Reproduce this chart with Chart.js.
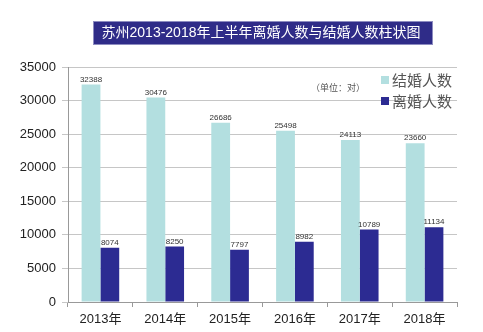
<!DOCTYPE html>
<html>
<head>
<meta charset="utf-8">
<script src="https://cdn.jsdelivr.net/npm/chart.js@4/dist/chart.umd.min.js"></script>
<style>
  html, body { margin: 0; padding: 0; background: #fff; }
  #wrap { width: 483px; height: 332px; position: relative; }
</style>
</head>
<body>
<div id="wrap"><canvas id="chart" width="483" height="332"></canvas></div>
<script>
const years = ['2013年', '2014年', '2015年', '2016年', '2017年', '2018年'];
const marriages = [32388, 30476, 26686, 25498, 24113, 23660];
const divorces = [8074, 8250, 7797, 8982, 10789, 11134];

const titleText = '苏州2013-2018年上半年离婚人数与结婚人数柱状图';
const unitText = '（单位：对）';
const seriesNames = ['结婚人数', '离婚人数'];
const marriageColor = '#b3dfe0';
const divorceColor = '#2c2b92';
const mixed = '"Liberation Sans", "Noto Sans CJK SC", sans-serif';
const cjk = '"Noto Sans CJK SC", "Noto Sans", sans-serif';
const latin = '"Liberation Sans", Arial, sans-serif';

const decorPlugin = {
  id: 'decor',
  afterDraw(chart) {
    const ctx = chart.ctx;
    ctx.save();

    // title box
    ctx.fillStyle = '#2f2c88';
    ctx.fillRect(93, 21, 340, 24);
    ctx.strokeStyle = '#8d8cc0';
    ctx.lineWidth = 1;
    ctx.strokeRect(93.5, 21.5, 339, 23);
    ctx.fillStyle = '#ffffff';
    ctx.font = '14px ' + mixed;
    ctx.textAlign = 'center';
    ctx.textBaseline = 'middle';
    ctx.fillText(titleText, 261, 33.5);

    // unit note
    ctx.fillStyle = '#555';
    ctx.font = '9px ' + cjk;
    ctx.fillText(unitText, 338, 88);

    // legend
    const colors = [marriageColor, divorceColor];
    ctx.textAlign = 'left';
    ctx.font = '15px ' + cjk;
    seriesNames.forEach((name, i) => {
      const y = 80 + i * 21;
      ctx.fillStyle = colors[i];
      ctx.fillRect(381, y - 4, 8, 8);
      ctx.fillStyle = '#555';
      ctx.fillText(name, 392, y);
    });

    // value labels
    ctx.textAlign = 'center';
    ctx.textBaseline = 'bottom';
    ctx.font = '8px ' + latin;
    ctx.fillStyle = '#333';
    chart.data.datasets.forEach((ds, di) => {
      chart.getDatasetMeta(di).data.forEach((bar, i) => {
        ctx.fillText(String(ds.data[i]), bar.x, bar.y - 1);
      });
    });

    ctx.restore();
  }
};

new Chart(document.getElementById('chart'), {
  type: 'bar',
  data: {
    labels: years,
    datasets: [
      {
        label: seriesNames[0],
        data: marriages,
        backgroundColor: marriageColor,
        barPercentage: 1,
        categoryPercentage: 0.58
      },
      {
        label: seriesNames[1],
        data: divorces,
        backgroundColor: divorceColor,
        barPercentage: 1,
        categoryPercentage: 0.58
      }
    ]
  },
  options: {
    responsive: false,
    animation: false,
    layout: { padding: { top: 67, right: 26, left: 0, bottom: 0 } },
    plugins: {
      legend: { display: false },
      tooltip: { enabled: false }
    },
    scales: {
      x: {
        grid: {
          drawOnChartArea: false,
          offset: true,
          tickLength: 5,
          color: '#999'
        },
        border: { color: '#999' },
        ticks: {
          color: '#222',
          font: { family: mixed, size: 13 },
          padding: 5,
          maxRotation: 0
        },
        afterFit(scale) { scale.height = 30; }
      },
      y: {
        min: 0,
        max: 35000,
        grid: { color: '#c6c6c6', tickLength: 6 },
        border: { color: '#999' },
        ticks: {
          stepSize: 5000,
          color: '#222',
          font: { family: latin, size: 13 },
          padding: 6,
          callback: v => String(v)
        },
        afterFit(scale) { scale.width = 68; }
      }
    }
  },
  plugins: [decorPlugin]
});
</script>
</body>
</html>
